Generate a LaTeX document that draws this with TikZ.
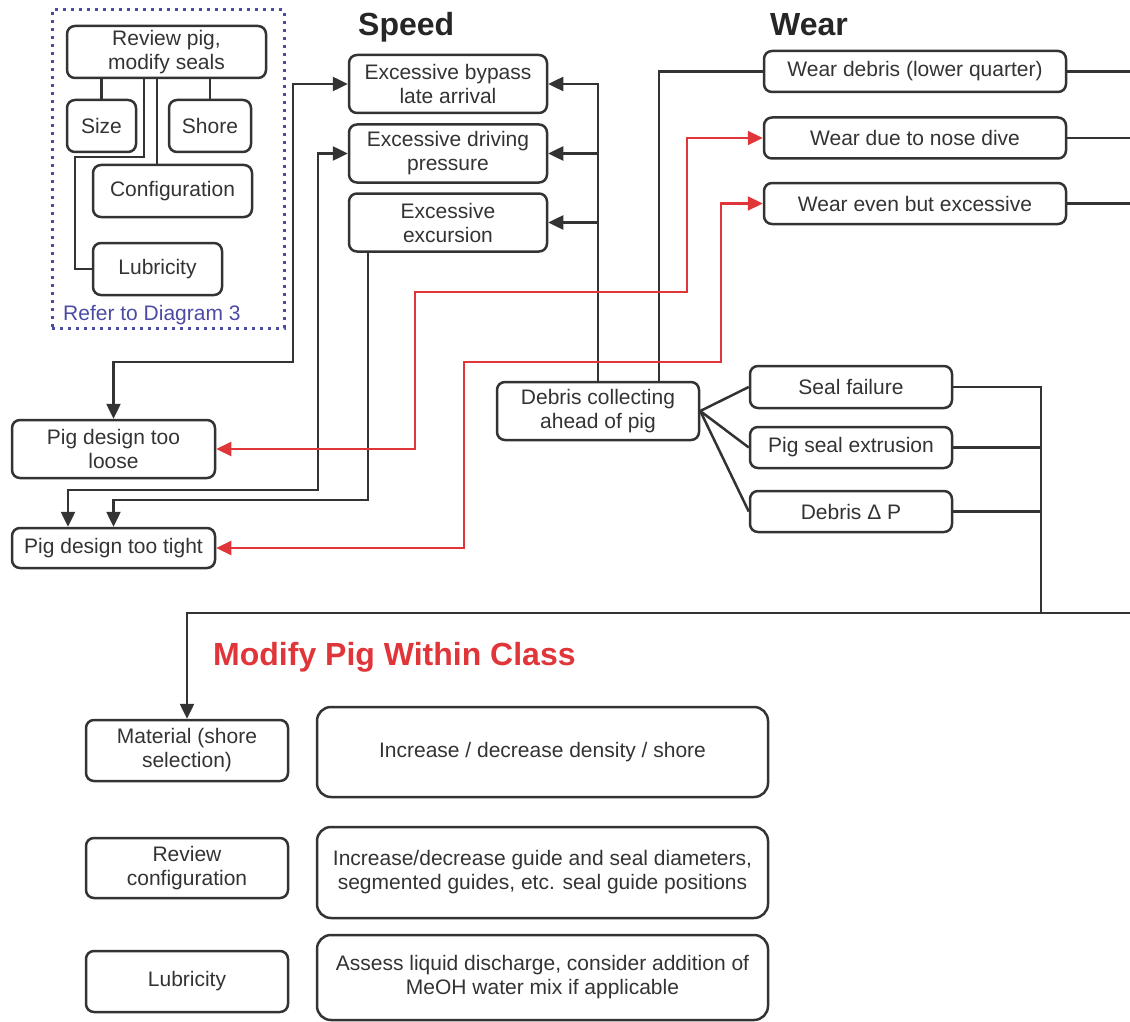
\documentclass[tikz,border=0pt]{standalone}
\usepackage{fontspec}
\setmainfont{Liberation Sans}
\usetikzlibrary{arrows.meta,calc}
\definecolor{ink}{HTML}{333333}
\definecolor{redl}{HTML}{E0363A}
\definecolor{blu}{HTML}{4B4BA5}
\begin{document}
\begin{tikzpicture}[x=1pt,y=-1pt,
  box/.style={draw=ink,line width=2.5pt,rounded corners=8pt,text=ink,align=center,inner sep=0pt,font=\fontsize{21}{24}\selectfont},
  bigbox/.style={box,rounded corners=14pt},
  conn/.style={draw=ink,line width=2.5pt},
  tipk/.tip={Triangle[length=15pt,width=14pt]},
  arr/.style={conn,-tipk},
  arrs/.style={conn,tipk-tipk},
  rarr/.style={draw=redl,line width=2.2pt,tipk-tipk},
  head/.style={font=\fontsize{32}{36}\selectfont\bfseries,text=black!85,inner sep=0pt}
]
\useasboundingbox (0,0) rectangle (1130,1022);

% group frame
\node[draw=blu,line width=3pt,dash pattern=on 3pt off 5pt,minimum width=232pt,minimum height=318pt,inner sep=0pt] (grp) at (168,169) {};
\node[box,minimum width=199pt,minimum height=52pt] (rev) at (166.5,52) {Review pig,\\modify seals};
\node[box,minimum width=69pt,minimum height=52pt] (size) at (101.5,126) {Size};
\node[box,minimum width=82pt,minimum height=52pt] (shore) at (210,126) {Shore};
\node[box,minimum width=159pt,minimum height=52pt] (conf) at (172.5,191) {Configuration};
\node[box,minimum width=129pt,minimum height=52pt] (lubA) at (157.5,269) {Lubricity};
\node[text=blu,anchor=base west,inner sep=0pt,font=\fontsize{21}{24}\selectfont] (refer) at (63,320) {Refer to Diagram 3};

% headings
\node[head,anchor=base west] (speed) at (358,36) {Speed};
\node[head,anchor=base west] (wear) at (770,36) {Wear};
\node[head,anchor=base west,text=redl] (modify) at (213,665) {Modify Pig Within Class};

% speed boxes
\node[box,minimum width=198pt,minimum height=58pt] (sp1) at (448,84) {Excessive bypass\\late arrival};
\node[box,minimum width=198pt,minimum height=58pt] (sp2) at (448,153.5) {Excessive driving\\pressure};
\node[box,minimum width=198pt,minimum height=58pt] (sp3) at (448,222.5) {Excessive\\excursion};

% wear boxes
\node[box,minimum width=302pt,minimum height=41pt] (w1) at (915,71.5) {Wear debris (lower quarter)};
\node[box,minimum width=302pt,minimum height=41pt] (w2) at (915,138) {Wear due to nose dive};
\node[box,minimum width=302pt,minimum height=41pt] (w3) at (915,203.5) {Wear even but excessive};

% pig design
\node[box,minimum width=203pt,minimum height=58pt] (loose) at (113.5,449) {Pig design too\\loose};
\node[box,minimum width=203pt,minimum height=40pt] (tight) at (113.5,548) {Pig design too tight};

% debris
\node[box,minimum width=202pt,minimum height=58pt] (debris) at (598,411) {Debris collecting\\ahead of pig};
\node[box,minimum width=202pt,minimum height=42pt] (seal) at (851,387) {Seal failure};
\node[box,minimum width=202pt,minimum height=41pt] (extr) at (851,447.5) {Pig seal extrusion};
\node[box,minimum width=202pt,minimum height=41pt] (dp) at (851,511.5) {Debris Δ P};

% bottom
\node[box,minimum width=202pt,minimum height=61pt] (mat) at (187,750.5) {Material (shore\\selection)};
\node[bigbox,minimum width=451pt,minimum height=90pt] (big1) at (542.5,752) {Increase / decrease density / shore};
\node[box,minimum width=202pt,minimum height=60pt] (revc) at (187,868) {Review\\configuration};
\node[bigbox,minimum width=451pt,minimum height=91pt] (big2) at (542.5,872.5) {Increase/decrease guide and seal diameters,\\segmented guides, etc. seal guide positions};
\node[box,minimum width=202pt,minimum height=61pt] (lubB) at (187,981.5) {Lubricity};
\node[bigbox,minimum width=451pt,minimum height=85pt] (big3) at (542.5,977.5) {Assess liquid discharge, consider addition of\\MeOH water mix if applicable};

% coordinates
\coordinate (k1) at (144,157);
\coordinate (k2) at (75,157);
\coordinate (k3) at (368,500);
\coordinate (j) at (1041,613);
\coordinate (edge) at (1130,613);

% group connectors
\draw[conn] (size.north) -- (size.north |- rev.south);
\draw[conn] (shore.north) -- (shore.north |- rev.south);
\draw[conn] ([xshift=-15.5pt]conf.north) -- ([xshift=-15.5pt]conf.north |- rev.south);
\draw[conn] (k1 |- rev.south) -- (k1) -- (k2) |- (lubA.west);

% speed connectors
\draw[arrs] (loose.north) |- (293,362) |- (sp1.west);
\draw[arrs] ([xshift=-45.5pt]tight.north) |- (318,490) |- (sp2.west);
\draw[arr] (k3 |- sp3.south) -- (k3) -| (tight.north);
\draw[arr] (debris.north) |- (sp1.east);
\draw[arr] (debris.north |- sp2.east) -- (sp2.east);
\draw[arr] (debris.north |- sp3.east) -- (sp3.east);
\draw[conn] ([xshift=61pt]debris.north) |- (w1.west);

% red connectors
\draw[rarr] (loose.east) -| (415,292) -| ([xshift=-76pt]w2.west) -- (w2.west);
\draw[rarr] (tight.east) -| (464,362) -| ([xshift=-42pt]w3.west) -- (w3.west);

% debris fan
\draw[conn] (debris.east) -- (seal.west);
\draw[conn] (debris.east) -- (extr.west);
\draw[conn] (debris.east) -- (dp.west);

% right collectors
\draw[conn] (seal.east) -| (j);
\draw[conn] (extr.east) -- (extr.east -| j);
\draw[conn] (dp.east) -- (dp.east -| j);
\draw[arr] (edge) -| (mat.north);
\draw[conn] (w1.east) -- (w1.east -| edge);
\draw[conn] (w2.east) -- (w2.east -| edge);
\draw[conn] (w3.east) -- (w3.east -| edge);
\end{tikzpicture}
\end{document}
